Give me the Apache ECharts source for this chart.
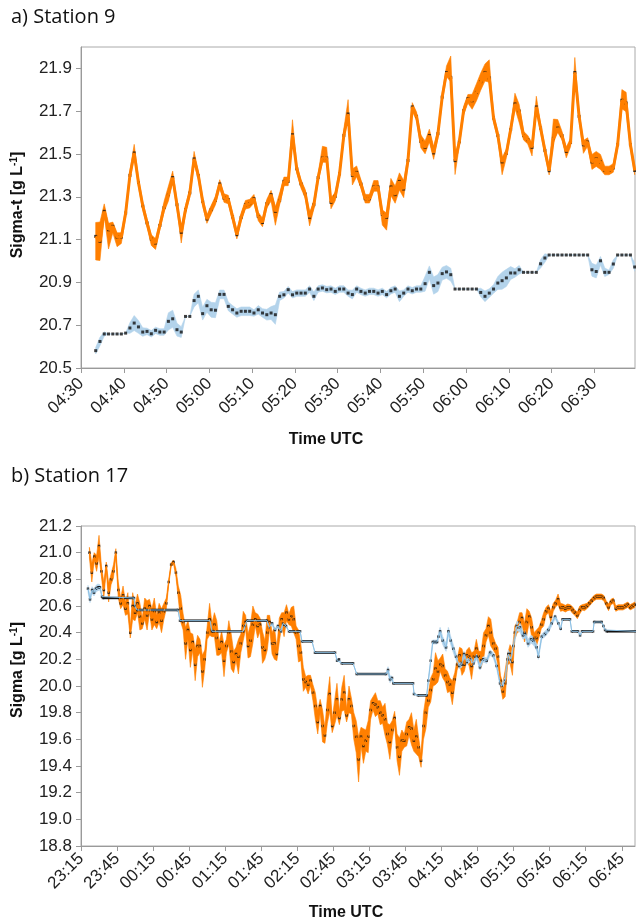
<!DOCTYPE html>
<html><head><meta charset="utf-8">
<script src="https://cdn.jsdelivr.net/npm/echarts@6/dist/echarts.min.js"></script>
<style>html,body{margin:0;padding:0;background:#fff}#c{width:636px;height:923px}</style>
</head><body><div id="c"></div>
<script>
// ---------------- DATA ----------------
// Panel a) Station 9
const aOrigin = '04:30';
const aTickLabels = ['04:30','04:40','04:50','05:00','05:10','05:20','05:30','05:40','05:50','06:00','06:10','06:20','06:30'];
const aAxisEnd = '06:39:30';
const aYTicks = [20.5,20.7,20.9,21.1,21.3,21.5,21.7,21.9];
const aSampleStart = '04:33:26';
const aSampleStepMin = 1;
const aOrange = [21.115,21.092,21.232,21.146,21.162,21.112,21.112,21.224,21.400,21.505,
21.367,21.258,21.178,21.103,21.084,21.166,21.250,21.310,21.390,21.263,
21.134,21.240,21.318,21.477,21.399,21.279,21.196,21.240,21.283,21.360,
21.294,21.287,21.206,21.123,21.204,21.263,21.268,21.291,21.208,21.180,
21.268,21.310,21.232,21.283,21.372,21.372,21.590,21.431,21.360,21.313,
21.204,21.263,21.390,21.481,21.481,21.274,21.302,21.407,21.586,21.687,
21.400,21.414,21.360,21.291,21.291,21.346,21.346,21.218,21.204,21.346,
21.310,21.372,21.336,21.470,21.720,21.676,21.559,21.531,21.586,21.505,
21.595,21.766,21.881,21.858,21.469,21.557,21.702,21.758,21.749,21.788,
21.838,21.881,21.855,21.668,21.587,21.463,21.503,21.614,21.734,21.701,
21.586,21.567,21.531,21.720,21.621,21.517,21.422,21.573,21.621,21.586,
21.512,21.554,21.881,21.676,21.543,21.556,21.463,21.477,21.463,21.423,
21.423,21.435,21.543,21.751,21.738,21.543,21.423];
const aOrangeUp = [.065,.09,.035,.03,.02,.02,.02,.02,.02,.04,
.02,.02,.02,.02,.02,.02,.03,.04,.03,.02,
.02,.02,.02,.035,.02,.02,.02,.02,.02,.02,
.02,.02,.02,.02,.02,.02,.02,.02,.02,.02,
.02,.02,.02,.035,.02,.02,.07,.02,.02,.02,
.02,.02,.02,.055,.05,.02,.02,.02,.03,.067,
.03,.03,.02,.02,.02,.03,.03,.02,.02,.04,
.04,.04,.04,.02,.02,.02,.03,.03,.03,.03,
.02,.02,.03,.1,.02,.02,.02,.02,.03,.04,
.04,.04,.085,.02,.02,.02,.02,.02,.05,.03,
.02,.02,.02,.05,.02,.02,.02,.09,.04,.02,
.02,.02,.07,.02,.02,.02,.035,.035,.035,.02,
.02,.02,.02,.05,.05,.02,.02];
const aOrangeDown = [.11,.09,.02,.09,.03,.045,.03,.02,.02,.02,
.02,.02,.02,.03,.03,.02,.02,.03,.02,.02,
.05,.02,.02,.02,.02,.02,.02,.02,.02,.02,
.02,.02,.02,.02,.02,.02,.02,.02,.02,.02,
.02,.03,.065,.02,.02,.02,.02,.02,.02,.02,
.04,.02,.02,.02,.02,.03,.02,.02,.02,.02,
.045,.02,.02,.02,.02,.02,.02,.05,.06,.04,
.04,.04,.04,.02,.02,.02,.03,.03,.03,.03,
.02,.02,.02,.02,.065,.02,.02,.02,.04,.04,
.04,.04,.02,.02,.02,.06,.02,.02,.02,.055,
.02,.02,.04,.02,.02,.02,.02,.02,.02,.02,
.03,.02,.02,.02,.04,.02,.035,.035,.035,.02,
.02,.02,.02,.04,.04,.02,.02];
const aBlue = [20.581,20.624,20.659,20.659,20.659,20.659,20.659,20.663,20.687,20.710,
20.692,20.668,20.671,20.660,20.676,20.668,20.668,20.718,20.730,20.679,
20.668,20.741,20.741,20.815,20.835,20.754,20.791,20.772,20.770,20.844,
20.844,20.788,20.772,20.757,20.765,20.765,20.765,20.757,20.772,20.757,
20.749,20.757,20.749,20.835,20.842,20.866,20.842,20.850,20.850,20.850,
20.869,20.835,20.869,20.874,20.866,20.869,20.858,20.869,20.869,20.850,
20.843,20.869,20.858,20.850,20.858,20.858,20.850,20.858,20.843,20.861,
20.869,20.835,20.850,20.869,20.861,20.869,20.869,20.894,20.947,20.885,
20.897,20.941,20.949,20.936,20.869,20.869,20.869,20.869,20.869,20.869,
20.853,20.835,20.850,20.869,20.897,20.908,20.921,20.944,20.944,20.959,
20.947,20.947,20.947,20.947,20.987,21.014,21.028,21.028,21.028,21.028,
21.028,21.028,21.028,21.028,21.028,21.028,20.959,20.951,21.001,20.947,
20.947,20.986,21.028,21.028,21.028,21.028,20.972];
const aBlueErr = [.015,.02,.01,0,0,0,0,0,.025,.035,
.03,.02,.015,.015,.015,.015,.015,.04,.04,.03,
.025,0,0,.03,.03,.03,.03,.035,.035,.02,
.02,.02,.02,.02,.02,.02,.02,.015,.02,.02,
.025,.03,.045,.02,.015,.015,.015,.015,.015,.015,
.015,.02,.015,.015,.015,.015,.015,.015,.015,.015,
.02,.015,.015,.015,.015,.015,.015,.015,.015,.015,
.015,.025,.015,.015,.015,.015,.015,.035,.03,.04,
.04,.03,.03,.03,0,0,0,0,0,0,
.02,.025,.02,.02,.03,.04,.04,.03,.02,.02,
0,0,0,0,.02,.02,0,0,0,0,
0,0,0,0,0,0,.03,.03,.02,.02,
.01,.02,0,0,0,0,.02];

// Panel b) Station 17
const bOrigin = '23:15';
const bTickLabels = ['23:15','23:45','00:15','00:45','01:15','01:45','02:15','02:45','03:15','03:45','04:15','04:45','05:15','05:45','06:15','06:45'];
const bAxisEnd = '06:56';
const bYTicks = [18.8,19.0,19.2,19.4,19.6,19.8,20.0,20.2,20.4,20.6,20.8,21.0,21.2];
const bSampleStart = '23:22';
const bSampleStepMin = 2;
const bOrange = [21.00,20.85,20.97,20.92,21.05,20.86,20.72,20.90,20.70,20.80,
20.86,21.00,20.72,20.62,20.68,20.58,20.62,20.40,20.60,20.55,
20.62,20.52,20.47,20.58,20.53,20.60,20.50,20.56,20.48,20.55,
20.49,20.56,20.62,20.78,20.91,20.93,20.85,20.70,20.58,20.48,
20.32,20.42,20.27,20.33,20.16,20.30,20.30,20.11,20.20,20.40,
20.50,20.42,20.46,20.36,20.28,20.33,20.19,20.30,20.40,20.26,
20.18,20.24,20.22,20.32,20.45,20.48,20.30,20.34,20.46,20.50,
20.45,20.46,20.29,20.27,20.40,20.48,20.32,20.32,20.24,20.42,
20.50,20.46,20.55,20.50,20.52,20.50,20.40,20.30,20.25,20.05,
20.03,20.01,20.04,19.95,19.85,19.73,19.85,19.70,19.63,19.82,
19.94,19.70,19.80,19.90,19.76,19.90,19.95,19.78,19.90,19.85,
19.70,19.62,19.45,19.62,19.55,19.59,19.62,19.82,19.87,19.86,
19.84,19.80,19.78,19.75,19.64,19.58,19.67,19.76,19.54,19.47,
19.59,19.59,19.64,19.69,19.68,19.59,19.62,19.54,19.44,19.70,
19.80,19.89,19.97,20.05,20.13,20.11,20.16,20.15,20.08,20.03,
20.01,19.95,20.05,20.16,20.23,20.18,20.16,20.23,20.22,20.15,
20.22,20.28,20.22,20.20,20.30,20.38,20.45,20.40,20.32,20.28,
20.22,20.04,19.96,20.02,20.20,20.24,20.18,20.40,20.44,20.48,
20.51,20.40,20.48,20.52,20.44,20.36,20.36,20.40,20.46,20.50,
20.56,20.58,20.52,20.59,20.62,20.65,20.59,20.59,20.58,20.59,
20.59,20.57,20.55,20.53,20.57,20.59,20.59,20.60,20.62,20.64,
20.66,20.67,20.67,20.67,20.66,20.62,20.59,20.63,20.64,20.58,
20.59,20.59,20.59,20.60,20.61,20.59,20.60,20.61];
const bOrangeErr = [.04,.07,.03,.06,.08,.04,.06,.03,.07,.04,
.05,.03,.06,.04,.07,.05,.08,.04,.1,.06,
.07,.1,.04,.08,.11,.05,.08,.1,.05,.07,
.09,.06,.04,.02,.015,.015,.03,.05,.1,.06,
.12,.07,.13,.06,.12,.08,.05,.12,.07,.05,
.12,.05,.09,.13,.05,.08,.12,.05,.09,.13,
.08,.05,.13,.07,.11,.05,.09,.12,.14,.05,
.09,.05,.12,.07,.13,.05,.08,.12,.05,.09,
.05,.09,.06,.04,.07,.1,.05,.12,.06,.09,
.04,.07,.04,.06,.1,.09,.05,.12,.06,.1,
.13,.05,.09,.12,.05,.09,.13,.05,.1,.06,
.1,.12,.17,.07,.13,.08,.12,.07,.05,.09,
.05,.09,.06,.12,.08,.13,.07,.05,.1,.14,
.08,.05,.09,.06,.12,.08,.13,.07,.05,.1,
.12,.05,.09,.05,.12,.08,.05,.09,.05,.08,
.05,.09,.05,.04,.06,.1,.05,.04,.07,.1,
.04,.07,.04,.06,.1,.05,.07,.1,.05,.04,
.07,.04,.06,.1,.04,.07,.1,.05,.04,.07,
.04,.07,.1,.04,.07,.04,.06,.04,.03,.05,
.03,.03,.04,.03,.025,.04,.03,.025,.025,.025,
.02,.025,.02,.025,.03,.02,.025,.02,.02,.02,
.02,.02,.02,.02,.02,.02,.025,.02,.02,.02,
.02,.02,.02,.02,.02,.02,.02,.02];
// minutes after 23:15
const bBlueTime = [5.8,7.5,9.2,10.8,12.5,14.1,15.8,17.5,18.3,44.1,44.9,46.6,80.7,82.4,107.4,109.0,135.0,136.5,138.1,154.8,
156.5,159.0,161.4,163.9,166.4,168.1,170.6,173.1,182.3,183.9,192.2,194.7,211.4,213.1,214.7,217.0,226.4,229.4,253.8,255.5,
257.1,258.8,259.9,276.3,277.1,280.4,287.7,289.0,291.0,292.7,296.3,297.4,298.8,301.0,303.8,305.7,307.7,309.8,312.1,314.6,
316.8,318.7,321.0,323.7,326.5,329.3,332.0,334.5,337.6,340.4,343.1,345.9,348.7,350.1,352.9,355.6,357.8,359.8,362.6,365.3,
367.8,369.5,372.0,374.5,376.4,379.2,380.6,383.4,386.1,388.9,391.7,394.5,397.2,399.2,400.7,406.9,408.4,413.6,415.3,416.9,
426.1,427.0,433.3,434.7,436.1,437.5,461.9];
const bBlueValue = [20.73,20.65,20.72,20.70,20.73,20.74,20.74,20.67,20.66,20.66,20.60,20.57,20.57,20.49,20.49,20.41,20.41,20.45,20.49,20.49,
20.44,20.47,20.42,20.45,20.41,20.47,20.45,20.41,20.41,20.335,20.335,20.25,20.25,20.19,20.20,20.17,20.17,20.09,20.09,20.12,
20.05,20.06,20.02,20.02,19.94,19.93,19.93,20.04,20.19,20.33,20.33,20.37,20.41,20.34,20.29,20.41,20.34,20.28,20.22,20.15,
20.16,20.24,20.18,20.20,20.17,20.22,20.14,20.20,20.19,20.25,20.23,20.15,20.02,20.00,20.04,20.24,20.20,20.30,20.45,20.44,
20.38,20.39,20.32,20.35,20.34,20.29,20.22,20.37,20.39,20.42,20.47,20.52,20.47,20.43,20.50,20.50,20.41,20.41,20.38,20.41,
20.41,20.48,20.48,20.45,20.42,20.41,20.41];
const bBlueErr = [.025,.025,.025,.025,.025,.025,.02,.015,0,0,.01,0,0,0,0,0,0,.012,0,0,
.012,.012,.012,.012,.012,.012,.012,0,0,0,0,0,0,.01,.01,0,0,0,0,.025,
.025,.015,0,0,.01,0,0,.015,.02,.015,.015,.02,.03,.03,.03,.03,.03,.03,.025,.02,
.02,.02,.02,.02,.02,.02,.02,.02,.02,.02,.02,.02,.02,.02,.025,.03,.03,.03,.035,.035,
.03,.03,.03,.03,.03,.025,.02,.02,.02,.02,.02,.015,.015,.015,0,0,0,0,.01,0,
0,0,0,.01,.01,0,0];

// ---------------- HELPERS ----------------
function clockToMin(s, origin) {
  const p = s.split(':').map(Number), o = origin.split(':').map(Number);
  let v = p[0]*60 + p[1] + (p[2]||0)/60 - (o[0]*60 + o[1]);
  if (v < -1) v += 1440;
  return v;
}
const aT0 = clockToMin(aSampleStart, aOrigin);
const aTimes = aOrange.map((_, i) => aT0 + i*aSampleStepMin);
const bT0 = clockToMin(bSampleStart, bOrigin);
const bTimes = bOrange.map((_, i) => bT0 + i*bSampleStepMin);
const aTickVals = aTickLabels.map(s => clockToMin(s, aOrigin));
const bTickVals = bTickLabels.map(s => clockToMin(s, bOrigin));

const ORANGE = '#ff7f00', LBLUE = '#b3d3eb', BLUELINE = '#8cc0e4';
const axisColor = '#9a9a9a';
const FONT = '"Liberation Sans", Arial, sans-serif';
const labelFont = {fontSize: 17, color: '#222', fontFamily: FONT};

function band(xi, times, lo, hi, color) {
  const data = times.map((t, i) => [t, lo[i], hi[i]]);
  return {
    type: 'custom', xAxisIndex: xi, yAxisIndex: xi, silent: true, data,
    encode: {x: 0, y: [1, 2]},
    renderItem(params, api) {
      if (params.dataIndex !== 0) return null;
      const up = [], dn = [];
      for (const d of data) { up.push(api.coord([d[0], d[2]])); dn.push(api.coord([d[0], d[1]])); }
      return {type: 'polygon', shape: {points: up.concat(dn.reverse())}, style: {fill: color, stroke: color, lineWidth: 0.6}};
    }
  };
}
function dots(xi, times, vals, size) {
  return {type: 'scatter', xAxisIndex: xi, yAxisIndex: xi, symbol: 'rect', symbolSize: size, silent: true,
    itemStyle: {color: '#111'}, data: times.map((t, i) => [t, vals[i]])};
}
function xAxisCfg(gi, max, vals, labels, margin) {
  return {
    type: 'value', gridIndex: gi, min: 0, max: max,
    axisLine: {show: true, lineStyle: {color: axisColor, width: 1}},
    axisTick: {show: true, length: 5, customValues: vals, lineStyle: {color: axisColor}},
    axisLabel: Object.assign({customValues: vals, rotate: 45, margin: margin,
      formatter: v => { let best = 0; vals.forEach((x, i) => { if (Math.abs(x - v) < Math.abs(vals[best] - v)) best = i; }); return labels[best]; }}, labelFont),
    splitLine: {show: false}
  };
}
function yAxisCfg(gi, min, max, ticks) {
  return {
    type: 'value', gridIndex: gi, min: min, max: max,
    axisLine: {show: true, lineStyle: {color: axisColor, width: 1}},
    axisTick: {show: true, length: 5, customValues: ticks, lineStyle: {color: axisColor}},
    axisLabel: Object.assign({customValues: ticks, margin: 9, formatter: v => v.toFixed(1)}, labelFont),
    splitLine: {show: false}
  };
}

const aEnd = clockToMin(aAxisEnd, aOrigin);
const bEnd = clockToMin(bAxisEnd, bOrigin);
const richName = {
  n: {fontSize: 16, fontWeight: 'bold', fontFamily: FONT, fill: '#111', lineHeight: 18},
  s: {fontSize: 10, fontWeight: 'bold', fontFamily: FONT, fill: '#111', verticalAlign: 'top', lineHeight: 10}
};

const chart = echarts.init(document.getElementById('c'), null, {renderer: 'canvas'});
chart.setOption({
  animation: false,
  backgroundColor: '#fff',
  grid: [
    {left: 81, top: 47, width: 554, height: 321, show: true, borderColor: '#aaa', borderWidth: 1},
    {left: 81, top: 526, width: 554, height: 320, show: true, borderColor: '#aaa', borderWidth: 1}
  ],
  xAxis: [xAxisCfg(0, aEnd, aTickVals, aTickLabels, 13), xAxisCfg(1, bEnd, bTickVals, bTickLabels, 10)],
  yAxis: [yAxisCfg(0, 20.5, 22.0, aYTicks), yAxisCfg(1, 18.8, 21.2, bYTicks)],
  series: [
    band(0, aTimes, aOrange.map((v, i) => v - aOrangeDown[i]), aOrange.map((v, i) => v + aOrangeUp[i]), ORANGE),
    {type: 'line', xAxisIndex: 0, yAxisIndex: 0, showSymbol: false, silent: true,
      lineStyle: {color: ORANGE, width: 3}, data: aTimes.map((t, i) => [t, aOrange[i]])},
    band(0, aTimes, aBlue.map((v, i) => v - aBlueErr[i]), aBlue.map((v, i) => v + aBlueErr[i]), LBLUE),
    dots(0, aTimes, aOrange, 3),
    dots(0, aTimes, aBlue, 3),

    band(1, bTimes, bOrange.map((v, i) => v - bOrangeErr[i]), bOrange.map((v, i) => v + bOrangeErr[i]), ORANGE),
    {type: 'line', xAxisIndex: 1, yAxisIndex: 1, showSymbol: false, silent: true,
      lineStyle: {color: ORANGE, width: 1}, data: bTimes.map((t, i) => [t, bOrange[i]])},
    band(1, bBlueTime, bBlueValue.map((v, i) => v - bBlueErr[i]), bBlueValue.map((v, i) => v + bBlueErr[i]), LBLUE),
    {type: 'line', xAxisIndex: 1, yAxisIndex: 1, showSymbol: false, silent: true,
      lineStyle: {color: BLUELINE, width: 1}, data: bBlueTime.map((t, i) => [t, bBlueValue[i]])},
    {type: 'custom', xAxisIndex: 1, yAxisIndex: 1, silent: true,
      data: bBlueTime.map((t, i) => [t, bBlueValue[i]]),
      renderItem(params, api) {
        const i = params.dataIndex;
        if (i + 1 >= bBlueTime.length || bBlueValue[i + 1] !== bBlueValue[i]) return null;
        const p0 = api.coord([bBlueTime[i], bBlueValue[i]]), p1 = api.coord([bBlueTime[i + 1], bBlueValue[i + 1]]);
        return {type: 'line', shape: {x1: p0[0], y1: p0[1], x2: p1[0], y2: p1[1]}, style: {stroke: '#111', lineWidth: 2.4}};
      }},
    dots(1, bTimes, bOrange, 2.5),
    dots(1, bBlueTime, bBlueValue, 2.5)
  ],
  graphic: [
    {type: 'text', left: 11, top: 7, style: {text: 'a) Station 9', font: '20px "Open Sans"', fill: '#111'}},
    {type: 'text', left: 11, top: 466, style: {text: 'b) Station 17', font: '20px "Open Sans"', fill: '#111'}},
    {type: 'text', x: 326, y: 440, style: {text: 'Time UTC', font: 'bold 16px ' + FONT, fill: '#111', align: 'center', verticalAlign: 'middle'}},
    {type: 'text', x: 346, y: 913, style: {text: 'Time UTC', font: 'bold 16px ' + FONT, fill: '#111', align: 'center', verticalAlign: 'middle'}},
    {type: 'text', x: 18, y: 205, rotation: Math.PI / 2, style: {
      text: '{n|Sigma-t [g L}{s|-1}{n|]}', align: 'center', verticalAlign: 'middle', rich: richName}},
    {type: 'text', x: 18, y: 670, rotation: Math.PI / 2, style: {
      text: '{n|Sigma [g L}{s|-1}{n|]}', align: 'center', verticalAlign: 'middle', rich: richName}}
  ]
});
</script></body></html>
